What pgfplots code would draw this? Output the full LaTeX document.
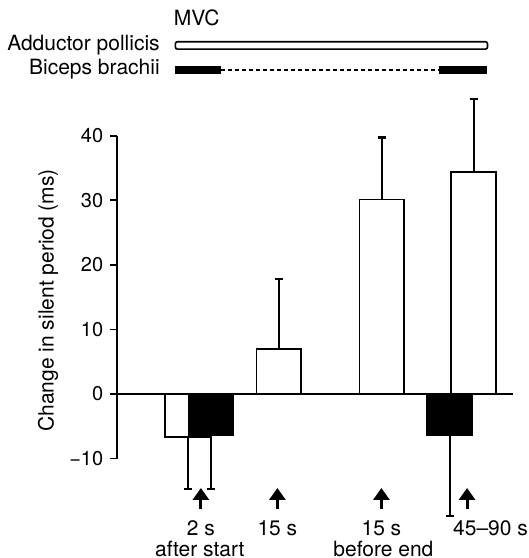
\documentclass[border=0pt]{standalone}
\usepackage{pgfplots}
\pgfplotsset{compat=1.18}
\usepackage{fontspec}
\setmainfont{TeX Gyre Heros}
\usetikzlibrary{arrows.meta}

\begin{document}
\begin{tikzpicture}[font=\fontsize{10.5}{12}\selectfont]
\begin{axis}[
    scale only axis, width=194pt, height=161.5pt,
    xmin=115, xmax=503, ymin=-10, ymax=40,
    enlargelimits=false, clip=false,
    axis y line*=left, axis x line*=middle,
    axis line style={line width=0.9pt},
    xtick=\empty,
    ytick={-10,0,10,20,30,40},
    yticklabels={−10,0,10,20,30,40},
    yticklabel style={font=\fontsize{10}{12}\selectfont},
    tick align=outside, major tick length=3.5pt,
    ytick style={line width=0.9pt,black},
    ylabel={Change in silent period (ms)},
    ylabel style={at={(axis description cs:-0.175,0.49)}, anchor=center},
    ybar, bar width=44, bar shift=0pt,
]
% adductor pollicis, bars above zero
\addplot[draw=black, fill=white, line width=0.9pt,
    error bars/.cd, y dir=plus, y explicit,
    error bar style={line width=1pt},
    error mark options={rotate=90, line width=1.2pt, mark size=2pt}]
    coordinates {(273.5,7.0) += (0,10.8) (374.5,30.1) += (0,9.6) (464.5,34.4) += (0,11.3)};
% adductor pollicis, bar below zero
\addplot[draw=black, fill=white, line width=0.9pt,
    error bars/.cd, y dir=minus, y explicit,
    error bar style={line width=1pt},
    error mark options={rotate=90, line width=1.2pt, mark size=2pt}]
    coordinates {(184,-6.7) -= (0,8.0)};
% biceps brachii
\addplot[draw=black, fill=black, line width=0.9pt,
    error bars/.cd, y dir=minus, y explicit,
    error bar style={line width=1pt},
    error mark options={rotate=90, line width=1.2pt, mark size=2pt}]
    coordinates {(207,-6.3) -= (0,8.4) (441,-6.4) -= (0,12.5)};

% header
\node[anchor=base west, inner sep=0pt] at (axis cs:170,57.12) {MVC};
\node[anchor=base east, inner sep=0pt] at (axis cs:157,53.25) {Adductor pollicis};
\node[anchor=base east, inner sep=0pt] at (axis cs:157,49.54) {Biceps brachii};
\draw[line width=0.8pt, fill=white, rounded corners=1pt] (axis cs:172,53.4) rectangle (axis cs:478,54.54);
\fill[black] (axis cs:172,49.54) rectangle (axis cs:217,50.77);
\fill[black] (axis cs:430,49.54) rectangle (axis cs:478,50.77);
\draw[line width=0.6pt, dash pattern=on 2pt off 1.5pt] (axis cs:217,50.15) -- (axis cs:430,50.15);

% arrows and time labels
\draw[line width=1.5pt, -{Triangle[width=8pt,length=6pt]}] (axis cs:197,-17.8) -- (axis cs:197,-14.55);
\draw[line width=1.5pt, -{Triangle[width=8pt,length=6pt]}] (axis cs:272,-17.8) -- (axis cs:272,-14.55);
\draw[line width=1.5pt, -{Triangle[width=8pt,length=6pt]}] (axis cs:374,-17.8) -- (axis cs:374,-14.55);
\draw[line width=1.5pt, -{Triangle[width=8pt,length=6pt]}] (axis cs:458,-17.8) -- (axis cs:458,-14.55);
\node[anchor=base, inner sep=0pt] at (axis cs:197,-21.83) {2 s};
\node[anchor=base, inner sep=0pt] at (axis cs:196,-25.1) {after start};
\node[anchor=base, inner sep=0pt] at (axis cs:272,-21.83) {15 s};
\node[anchor=base, inner sep=0pt] at (axis cs:374,-21.83) {15 s};
\node[anchor=base, inner sep=0pt] at (axis cs:376,-25.1) {before end};
\node[anchor=base, inner sep=0pt] at (axis cs:481,-21.83) {45–90 s};

\path (axis cs:0,-25.39) rectangle (axis cs:518,61.0);
\end{axis}
\end{tikzpicture}
\end{document}
